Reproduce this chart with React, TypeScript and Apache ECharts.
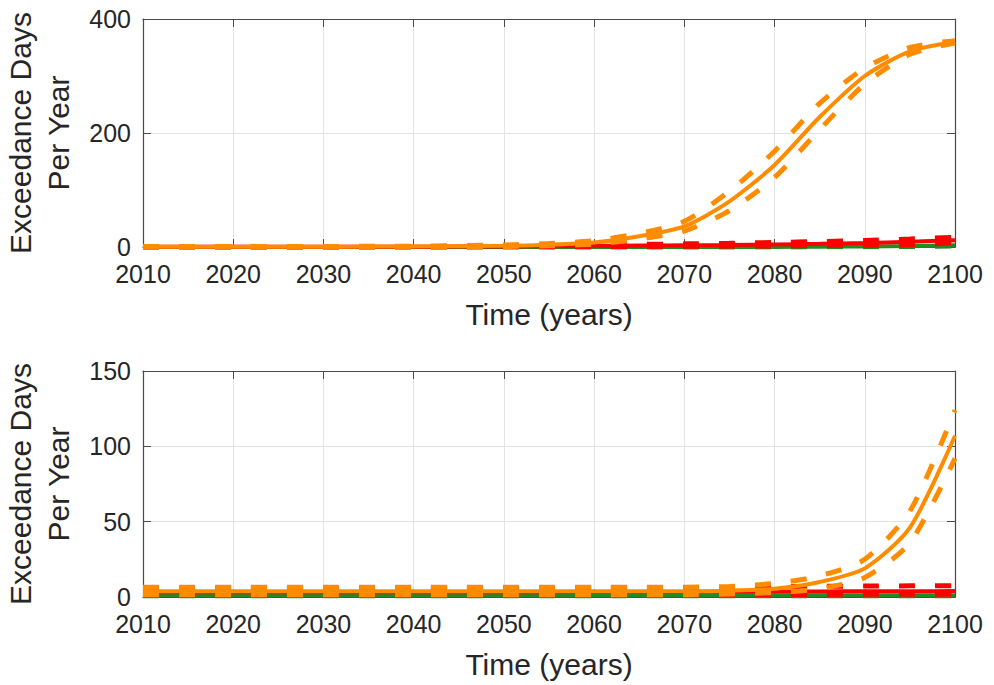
import React, { useEffect, useRef } from "react";
import * as echarts from "echarts";

const years = [2010, 2015, 2020, 2025, 2030, 2035, 2040, 2045, 2050, 2055, 2060, 2065, 2070, 2075, 2080, 2085, 2090, 2095, 2100];

// Top panel
const topOrangeMid = [0.5, 0.5, 0.5, 0.5, 0.5, 0.7, 1, 1.5, 2, 4, 8, 19, 36, 80, 144, 228, 300, 343, 360];
const topOrangeHi = [1, 1, 1, 1, 1, 1.2, 1.5, 2.5, 3.5, 6, 11, 24, 45, 98, 168, 252, 314, 350, 362];
const topOrangeLo = [0.2, 0.2, 0.2, 0.2, 0.2, 0.3, 0.5, 0.8, 1, 2, 5, 14, 28, 64, 122, 206, 286, 338, 358];
const topRedMid = [0.3, 0.3, 0.3, 0.3, 0.3, 0.4, 0.5, 0.8, 1, 1.5, 2, 2.5, 3, 3.5, 4.5, 5.5, 7, 9, 12];
const topRedHi = [0.6, 0.6, 0.6, 0.6, 0.6, 0.7, 0.9, 1.3, 1.8, 2.5, 3.5, 4.5, 5.5, 6.5, 8, 9.5, 11.5, 14, 17];
const topRedLo = [0.1, 0.1, 0.1, 0.1, 0.1, 0.1, 0.1, 0.2, 0.3, 0.5, 0.8, 1, 1.3, 1.6, 2, 2.6, 3.2, 4, 7.5];
const topGreenMid = [0, 0, 0, 0, 0, 0, 0, 0, 0, 0, 0, 0, 0.1, 0.1, 0.2, 0.5, 1, 1.8, 3];
const topGreenHi = [0, 0, 0, 0, 0, 0, 0, 0, 0, 0.1, 0.1, 0.1, 0.2, 0.2, 0.4, 0.8, 1.5, 2.5, 4];
const topGreenLo = [0, 0, 0, 0, 0, 0, 0, 0, 0, 0, 0, 0, 0, 0, 0.1, 0.2, 0.5, 1, 2];

// Bottom panel
const botOrangeMid = [3.8, 3.8, 3.8, 3.8, 3.8, 3.8, 3.8, 3.8, 3.8, 3.8, 3.8, 3.8, 3.8, 4.2, 5.5, 10, 19, 46, 107];
const botOrangeHi = [6.5, 6.5, 6.5, 6.5, 6.5, 6.5, 6.5, 6.5, 6.5, 6.5, 6.5, 6.5, 6.5, 7, 9, 14, 25, 57, 124];
const botOrangeLo = [1.5, 1.5, 1.5, 1.5, 1.5, 1.5, 1.5, 1.5, 1.5, 1.5, 1.5, 1.5, 1.5, 2, 3, 5.5, 13, 36, 92];
const botRedMid = [3.2, 3.2, 3.2, 3.2, 3.2, 3.2, 3.2, 3.2, 3.2, 3.2, 3.3, 3.3, 3.4, 3.5, 3.6, 3.7, 3.8, 3.8, 3.9];
const botRedHi = [5.5, 5.5, 5.5, 5.5, 5.5, 5.5, 5.5, 5.5, 5.5, 5.5, 5.7, 5.9, 6.1, 6.4, 6.8, 7.1, 7.3, 7.4, 7.5];
const botRedLo = [1.5, 1.5, 1.5, 1.5, 1.5, 1.5, 1.5, 1.5, 1.5, 1.5, 1.5, 1.5, 1.6, 1.6, 1.7, 1.7, 1.8, 1.8, 1.9];
const botGreenMid = [1.2, 1.2, 1.2, 1.2, 1.2, 1.2, 1.2, 1.2, 1.2, 1.2, 1.2, 1.2, 1.2, 1.2, 1.2, 1.2, 1.2, 1.2, 1.2];
const botGreenHi = [1.6, 1.6, 1.6, 1.6, 1.6, 1.6, 1.6, 1.6, 1.6, 1.6, 1.6, 1.6, 1.6, 1.6, 1.6, 1.6, 1.6, 1.6, 1.6];
const botGreenLo = [0.8, 0.8, 0.8, 0.8, 0.8, 0.8, 0.8, 0.8, 0.8, 0.8, 0.8, 0.8, 0.8, 0.8, 0.8, 0.8, 0.8, 0.8, 0.8];

const topYTicks = [0, 200, 400];
const botYTicks = [0, 50, 100, 150];
const yTitle = "Exceedance Days\nPer Year";
const xTitle = "Time (years)";

const ORANGE = "#ff8c00";
const RED = "#ff0000";
const GREEN = "#228b22";
const FONT = "Liberation Sans, Arial, Helvetica, sans-serif";
const TEXT = "#262626";
const AXIS = "#4a4a4a";

function line(data: number[], color: string, dashed: boolean, gi: number) {
  return {
    type: "line",
    xAxisIndex: gi * 2,
    yAxisIndex: gi * 2,
    data: years.map((y, i) => [y, data[i]]),
    showSymbol: false,
    symbol: "none",
    smooth: 0.25,
    silent: true,
    lineStyle: {
      color,
      width: dashed ? 5 : 4,
      type: dashed ? [16, 20] : "solid",
      cap: "butt",
    },
  };
}

function xAxes(gi: number) {
  const base = {
    type: "value",
    gridIndex: gi,
    min: 2010,
    max: 2100,
    interval: 10,
  };
  return [
    {
      ...base,
      position: "bottom",
      name: xTitle,
      nameLocation: "middle",
      nameGap: 52,
      nameTextStyle: { fontFamily: FONT, fontSize: 30, color: TEXT },
      axisLine: { show: true, onZero: false, lineStyle: { color: AXIS, width: 1.2 } },
      axisTick: { show: true, inside: true, length: 8, lineStyle: { color: AXIS } },
      axisLabel: { fontFamily: FONT, fontSize: 25, color: TEXT, margin: 14, formatter: (v: number) => String(v) },
      splitLine: { show: true, lineStyle: { color: "#e3e3e3", width: 1 } },
    },
    {
      ...base,
      position: "top",
      axisLine: { show: true, onZero: false, lineStyle: { color: AXIS, width: 1.2 } },
      axisTick: { show: true, inside: true, length: 8, lineStyle: { color: AXIS } },
      axisLabel: { show: false },
      splitLine: { show: false },
    },
  ];
}

function yAxes(gi: number, ticks: number[]) {
  const base = {
    type: "value",
    gridIndex: gi,
    min: ticks[0],
    max: ticks[ticks.length - 1],
    interval: ticks[1] - ticks[0],
  };
  return [
    {
      ...base,
      position: "left",
      axisLine: { show: true, onZero: false, lineStyle: { color: AXIS, width: 1.2 } },
      axisTick: { show: true, inside: true, length: 8, lineStyle: { color: AXIS } },
      axisLabel: { fontFamily: FONT, fontSize: 25, color: TEXT, margin: 12 },
      splitLine: { show: true, lineStyle: { color: "#e3e3e3", width: 1 } },
    },
    {
      ...base,
      position: "right",
      axisLine: { show: true, onZero: false, lineStyle: { color: AXIS, width: 1.2 } },
      axisTick: { show: true, inside: true, length: 8, lineStyle: { color: AXIS } },
      axisLabel: { show: false },
      splitLine: { show: false },
    },
  ];
}

function yTitleText(cy: number) {
  return {
    type: "text",
    x: 39,
    y: cy,
    rotation: Math.PI / 2,
    silent: true,
    style: {
      text: yTitle,
      fontFamily: FONT,
      fontSize: 30,
      lineHeight: 38,
      fill: TEXT,
      align: "center",
      verticalAlign: "middle",
    },
  };
}

export default function App() {
  const ref = useRef<HTMLDivElement>(null);
  useEffect(() => {
    if (!ref.current) return;
    const chart = echarts.init(ref.current, undefined, { renderer: "svg" });
    const panels = [
      [topGreenLo, topGreenHi, topGreenMid, topRedLo, topRedHi, topRedMid, topOrangeLo, topOrangeHi, topOrangeMid],
      [botGreenLo, botGreenHi, botGreenMid, botRedLo, botRedHi, botRedMid, botOrangeLo, botOrangeHi, botOrangeMid],
    ];
    const colors = [GREEN, GREEN, GREEN, RED, RED, RED, ORANGE, ORANGE, ORANGE];
    const dashed = [true, true, false, true, true, false, true, true, false];
    const series: any[] = [];
    panels.forEach((arrs, gi) => {
      arrs.forEach((a, k) => series.push(line(a, colors[k], dashed[k], gi)));
    });
    chart.setOption({
      animation: false,
      backgroundColor: "#ffffff",
      grid: [
        { left: 143, top: 19, width: 812, height: 228 },
        { left: 143, top: 371, width: 812, height: 226 },
      ],
      xAxis: [...xAxes(0), ...xAxes(1)],
      yAxis: [...yAxes(0, topYTicks), ...yAxes(1, botYTicks)],
      graphic: [yTitleText(133), yTitleText(484)],
      series,
    });
    return () => chart.dispose();
  }, []);
  return (
    <div
      ref={ref}
      style={{ position: "fixed", left: 0, top: 0, width: 994, height: 685, background: "#fff" }}
    />
  );
}
